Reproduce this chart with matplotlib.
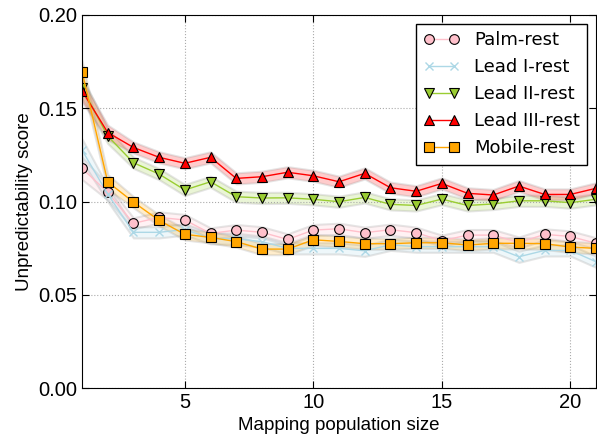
import numpy as np
import matplotlib
matplotlib.use('Agg')
import matplotlib.pyplot as plt

plt.rcParams['font.family'] = ['Liberation Sans', 'DejaVu Sans']
plt.rcParams['xtick.direction'] = 'in'
plt.rcParams['ytick.direction'] = 'in'

# 族群大小
sizes = list(range(1, 22))

palm = [0.1178, 0.1049, 0.0883, 0.0915, 0.0901, 0.0829, 0.0847, 0.0835, 0.0797, 0.0847, 0.0854,
        0.0833, 0.0849, 0.0833, 0.0790, 0.0820, 0.0820, 0.0780, 0.0824, 0.0813, 0.0776]
lead1 = [0.1276, 0.1040, 0.0835, 0.0835, 0.0850, 0.0803, 0.0800, 0.0785, 0.0749, 0.0749, 0.0749,
         0.0736, 0.0768, 0.0758, 0.0758, 0.0758, 0.0758, 0.0704, 0.0738, 0.0738, 0.0677]
lead2 = [0.1610, 0.1351, 0.1208, 0.1147, 0.1062, 0.1106, 0.1026, 0.1019, 0.1020, 0.1012, 0.0999,
         0.1022, 0.0985, 0.0979, 0.1013, 0.0979, 0.0987, 0.1004, 0.1004, 0.0994, 0.1012]
lead3 = [0.1594, 0.1370, 0.1290, 0.1237, 0.1205, 0.1237, 0.1124, 0.1133, 0.1157, 0.1138, 0.1106,
         0.1151, 0.1074, 0.1055, 0.1097, 0.1044, 0.1035, 0.1083, 0.1038, 0.1038, 0.1071]
mobile = [0.1696, 0.1105, 0.0997, 0.0899, 0.0824, 0.0808, 0.0785, 0.0745, 0.0745, 0.0795, 0.0786,
          0.0774, 0.0774, 0.0779, 0.0779, 0.0767, 0.0776, 0.0776, 0.0774, 0.0756, 0.0749]

# 信賴區間寬度
band = [0.006, 0.004, 0.003, 0.003, 0.003, 0.003, 0.003, 0.003, 0.003, 0.003, 0.003,
        0.003, 0.003, 0.003, 0.003, 0.003, 0.003, 0.003, 0.003, 0.003, 0.003]

series = [
    ('Palm-rest', palm, 'pink', 'o'),
    ('Lead I-rest', lead1, 'lightblue', 'x'),
    ('Lead II-rest', lead2, 'yellowgreen', 'v'),
    ('Lead III-rest', lead3, 'red', '^'),
    ('Mobile-rest', mobile, 'orange', 's'),
]

fig = plt.figure(figsize=(5.97, 4.41), dpi=100)
ax = fig.add_axes([0.1374, 0.12, 0.861, 0.846])

x = np.array(sizes)
b = np.array(band)
for name, vals, color, marker in series:
    v = np.array(vals)
    ax.fill_between(x, v - b, v + b, facecolor=matplotlib.colors.to_rgba(color, 0.2),
                    edgecolor=(0.6, 0.6, 0.6, 0.25), linewidth=1.5)
    if marker == 'x':
        ax.plot(x, v, color=color, marker=marker, markersize=6, markeredgecolor=color,
                linewidth=1, label=name)
    else:
        ax.plot(x, v, color=color, marker=marker, markersize=7, markerfacecolor=color,
                markeredgecolor='black', markeredgewidth=0.8, linewidth=1, label=name)

ax.set_xlim(1, 21)
ax.set_ylim(0, 0.2)
ax.set_xticks([5, 10, 15, 20])
ax.set_yticks([0, 0.05, 0.1, 0.15, 0.2])
ax.set_yticklabels(['0.00', '0.05', '0.10', '0.15', '0.20'])
ax.tick_params(labelsize=14.5, top=True, right=True, length=5)
ax.grid(True, linestyle=':', color='#aaaaaa', linewidth=0.8)
ax.set_xlabel('Mapping population size', fontsize=13.5)
ax.set_ylabel('Unpredictability score', fontsize=13.5)

leg = ax.legend(loc='upper right', numpoints=2, fancybox=False, framealpha=1,
                edgecolor='black', prop={'family': 'DejaVu Sans', 'size': 13},
                handlelength=2.0, borderaxespad=0.5)
leg.get_frame().set_linewidth(1)

fig.savefig('out.png', dpi=100)
